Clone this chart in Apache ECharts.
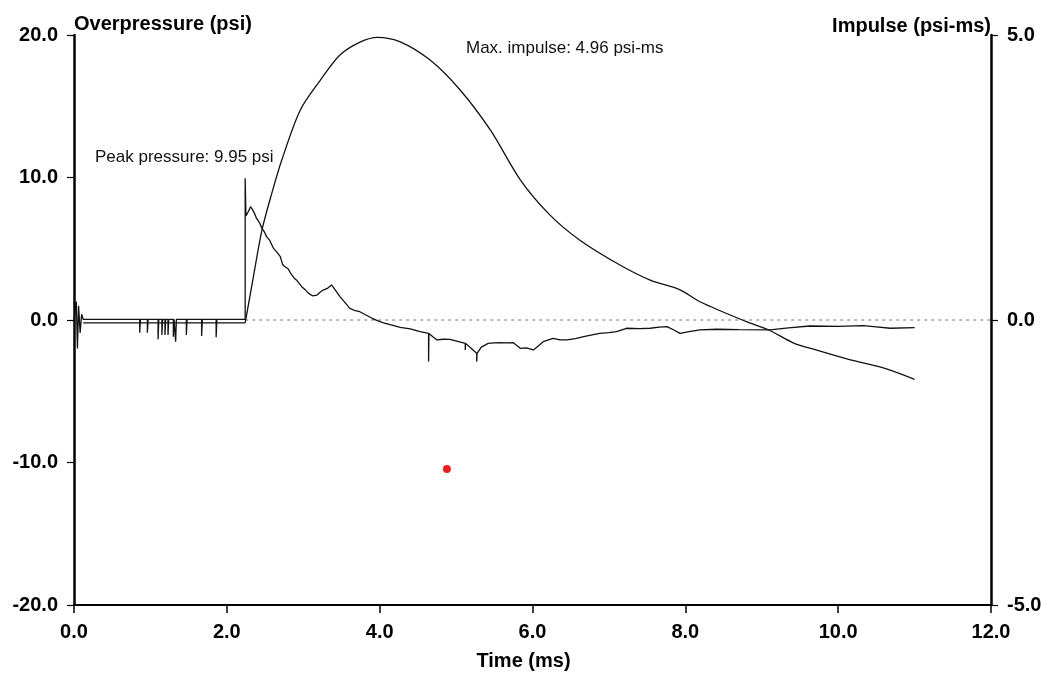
<!DOCTYPE html>
<html>
<head>
<meta charset="utf-8">
<script src="https://cdn.jsdelivr.net/npm/echarts@6/dist/echarts.min.js"></script>
<style>
html,body{margin:0;padding:0;background:#fff;}
#chart{width:1046px;height:675px;}
</style>
</head>
<body>
<div id="chart"></div>
<script>
// ---- Data ----
var xTicks = [0, 2, 4, 6, 8, 10, 12];
var leftTicks = [-20, -10, 0, 10, 20];
var rightTicks = [-5, 0, 5];

// Overpressure (psi) vs time (ms)
var pressureT = [
  0.00, 0.03, 0.045, 0.06, 0.08, 0.10, 0.12,
  0.86, 0.86, 0.87, 0.96, 0.96, 0.97, 1.10, 1.10, 1.11, 1.15, 1.15, 1.16,
  1.19, 1.19, 1.20, 1.23, 1.23, 1.24, 1.30, 1.30, 1.31, 1.33, 1.33, 1.34,
  1.47, 1.47, 1.48, 1.67, 1.67, 1.68, 1.86, 1.86, 1.87,
  2.24, 2.24, 2.25, 2.28, 2.31, 2.33, 2.36, 2.39, 2.43, 2.46, 2.49, 2.52, 2.56,
  2.61, 2.65, 2.70, 2.73, 2.76, 2.80, 2.85, 2.88, 2.91, 2.98, 3.03, 3.07, 3.12,
  3.18, 3.22, 3.26, 3.31, 3.37, 3.42, 3.48, 3.55, 3.61, 3.68, 3.74, 3.82, 3.90,
  3.97, 4.05, 4.15, 4.27, 4.40, 4.53, 4.64, 4.64, 4.645, 4.70, 4.75, 4.83, 4.92,
  5.02, 5.12, 5.12, 5.125, 5.20, 5.27, 5.27, 5.275, 5.33, 5.42, 5.50, 5.58, 5.66,
  5.75, 5.84, 5.92, 6.01, 6.08, 6.14, 6.27, 6.36, 6.45, 6.56, 6.67, 6.78, 6.88,
  7.00, 7.10, 7.23, 7.40, 7.54, 7.66, 7.76, 7.85, 7.93, 8.05, 8.19, 8.41, 8.70,
  9.11, 9.35, 9.63, 10.00, 10.33, 10.50, 10.68, 11.00
];
var pressureP = [
  0.0, 1.3, -2.0, 1.0, -0.9, 0.4, 0.05,
  0.05, -0.9, 0.05, 0.05, -0.9, 0.05, 0.05, -1.35, 0.05, 0.05, -1.05, 0.05,
  0.05, -1.05, 0.05, 0.05, -1.05, 0.05, 0.05, -1.17, 0.05, 0.05, -1.52, 0.05,
  0.05, -1.05, 0.05, 0.05, -1.12, 0.05, 0.05, -1.21, 0.05,
  0.05, 9.95, 7.3, 7.6, 7.95, 7.8, 7.5, 7.13, 6.8, 6.43, 6.2, 5.85, 5.6,
  5.03, 4.8, 4.44, 3.9, 3.74, 3.6, 3.16, 2.95, 2.81, 2.34, 2.1, 1.87, 1.7,
  1.75, 1.95, 2.1, 2.2, 2.46, 2.1, 1.64, 1.2, 0.82, 0.65, 0.58, 0.35, 0.12,
  -0.05, -0.2, -0.35, -0.51, -0.62, -0.82, -0.94, -2.92, -0.94, -1.2, -1.40, -1.35, -1.36,
  -1.5, -1.64, -2.1, -1.64, -2.0, -2.34, -2.92, -2.34, -1.9, -1.64, -1.6, -1.59, -1.6,
  -1.59, -1.99, -1.95, -2.1, -1.8, -1.52, -1.29, -1.4, -1.40, -1.3, -1.17, -1.05, -0.94,
  -0.88, -0.82, -0.58, -0.6, -0.58, -0.5, -0.47, -0.7, -0.94, -0.82, -0.70, -0.65, -0.68,
  -0.70, -0.55, -0.42, -0.45, -0.40, -0.48, -0.58, -0.54
];

// Impulse (psi-ms) vs time (ms): flat part before arrival, then the curve
var impulsePreT = [0.12, 2.24];
var impulsePreI = [-0.05, -0.05];
var impulseT = [
  2.24, 2.34, 2.46, 2.59, 2.72, 2.96, 3.22, 3.48, 3.75, 3.97, 4.27, 4.66,
  5.05, 5.45, 5.84, 6.23, 6.62, 7.15, 7.54, 7.93, 8.19, 8.80, 9.10, 9.41, 9.72,
  10.16, 10.59, 11.00
];
var impulseI = [
  -0.05, 0.70, 1.58, 2.23, 2.81, 3.68, 4.20, 4.65, 4.88, 4.96, 4.88, 4.56,
  4.04, 3.33, 2.46, 1.84, 1.40, 0.96, 0.70, 0.53, 0.32, -0.03, -0.18, -0.40, -0.53,
  -0.70, -0.84, -1.04
];

// zero reference line (dotted) and marked point
var zeroLineT = [2.24, 12.0];
var zeroLineP = [0, 0];
var markT = [4.88];
var markP = [-10.46];

var peakLabel = 'Peak pressure: 9.95 psi';
var maxLabel = 'Max. impulse: 4.96 psi-ms';

function zip(a, b) { return a.map(function (v, i) { return [v, b[i]]; }); }

var chart = echarts.init(document.getElementById('chart'), null, { renderer: 'canvas' });
var FONT = '"Liberation Sans", Arial, Helvetica, sans-serif';
var tickFmt = function (v) { return v.toFixed(1); };

var option = {
  backgroundColor: '#ffffff',
  animation: false,
  textStyle: { fontFamily: FONT },
  grid: { left: 74, right: 55, top: 35, bottom: 70, containLabel: false, outerBoundsMode: 'none' },
  xAxis: {
    type: 'value', min: xTicks[0], max: xTicks[xTicks.length - 1], interval: 2,
    name: 'Time (ms)', nameLocation: 'middle', nameGap: 46,
    nameTextStyle: { fontFamily: FONT, fontSize: 20, fontWeight: 'bold', color: '#000', padding: [0, 18, 0, 0] },
    axisLine: { show: true, onZero: false, lineStyle: { color: '#000', width: 2 } },
    axisTick: { show: true, length: 8, lineStyle: { color: '#000', width: 1.5 } },
    axisLabel: { formatter: tickFmt, fontFamily: FONT, fontSize: 20, fontWeight: 'bold', color: '#000', margin: 17 },
    splitLine: { show: false }
  },
  yAxis: [
    {
      type: 'value', min: leftTicks[0], max: leftTicks[leftTicks.length - 1], interval: 10,
      position: 'left',
      name: 'Overpressure (psi)', nameLocation: 'end', nameGap: 1,
      nameTextStyle: { fontFamily: FONT, fontSize: 20, fontWeight: 'bold', color: '#000', align: 'left' },
      axisLine: { show: true, onZero: false, lineStyle: { color: '#000', width: 2.5 } },
      axisTick: { show: true, length: 7, lineStyle: { color: '#000', width: 1.2 } },
      axisLabel: { formatter: tickFmt, fontFamily: FONT, fontSize: 20, fontWeight: 'bold', color: '#000', margin: 16 },
      splitLine: { show: false }
    },
    {
      type: 'value', min: rightTicks[0], max: rightTicks[rightTicks.length - 1], interval: 5,
      position: 'right',
      name: 'Impulse (psi-ms)', nameLocation: 'end', nameGap: -1,
      nameTextStyle: { fontFamily: FONT, fontSize: 20, fontWeight: 'bold', color: '#000', align: 'right' },
      axisLine: { show: true, onZero: false, lineStyle: { color: '#000', width: 2.5 } },
      axisTick: { show: true, length: 7, lineStyle: { color: '#000', width: 1.2 } },
      axisLabel: { formatter: tickFmt, fontFamily: FONT, fontSize: 20, fontWeight: 'bold', color: '#000', margin: 16 },
      splitLine: { show: false }
    }
  ],
  series: [
    {
      name: 'Zero', type: 'line', yAxisIndex: 0, data: zip(zeroLineT, zeroLineP),
      showSymbol: false, silent: true,
      lineStyle: { color: '#777', width: 1, type: [3, 4] }
    },
    {
      name: 'Overpressure', type: 'line', yAxisIndex: 0, data: zip(pressureT, pressureP),
      showSymbol: false, smooth: false,
      lineStyle: { color: '#111', width: 1.3 }
    },
    {
      name: 'Impulse pre', type: 'line', yAxisIndex: 1, data: zip(impulsePreT, impulsePreI),
      showSymbol: false, smooth: false,
      lineStyle: { color: '#111', width: 1.3 }
    },
    {
      name: 'Impulse', type: 'line', yAxisIndex: 1, data: zip(impulseT, impulseI),
      showSymbol: false, smooth: 0.3,
      lineStyle: { color: '#111', width: 1.3 }
    },
    {
      name: 'Mark', type: 'scatter', yAxisIndex: 0, data: zip(markT, markP),
      symbolSize: 8, itemStyle: { color: '#e8231f', opacity: 1 }
    }
  ],
  graphic: [
    { type: 'text', left: 95, top: 149, style: { text: peakLabel, font: '17px ' + FONT, fill: '#111' } },
    { type: 'text', left: 466, top: 40, style: { text: maxLabel, font: '17px ' + FONT, fill: '#111' } }
  ]
};
chart.setOption(option);
</script>
</body>
</html>
